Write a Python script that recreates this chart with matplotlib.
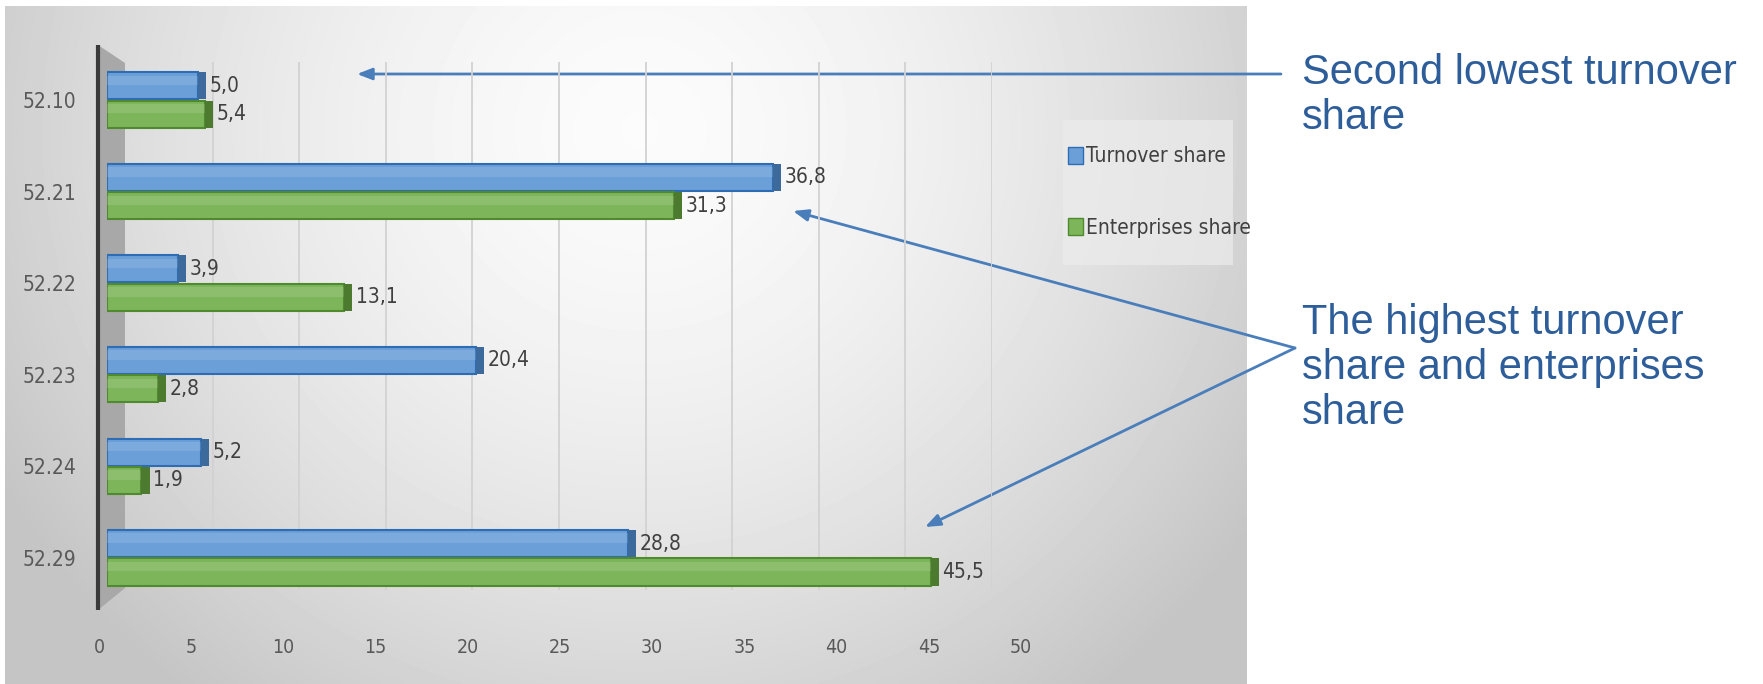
import matplotlib

matplotlib.use("Agg")
import matplotlib.pyplot as plt
import numpy as np
from matplotlib import font_manager
from matplotlib.patches import Patch, Polygon, Rectangle

# data
categories = ["52.10", "52.21", "52.22", "52.23", "52.24", "52.29"]
turnover_share = [5.0, 36.8, 3.9, 20.4, 5.2, 28.8]
enterprises_share = [5.4, 31.3, 13.1, 2.8, 1.9, 45.5]
series_labels = ["Turnover share", "Enterprises share"]
x_ticks = list(range(0, 55, 5))
note_low = "Second lowest turnover\nshare"
note_high = "The highest turnover\nshare and enterprises\nshare"

W, H = 1763, 684
NOTE_COLOR = "#2E5E9A"
ARROW_COLOR = "#4A7EBB"
LABEL_COLOR = "#404040"

BLUE = dict(face="#6A9FD8", edge="#2E6DB4", side="#3C6A9C")
GREEN = dict(face="#7DB65A", edge="#4F8A2E", side="#4C7A2E")


def narrow_font():
    # look for any condensed / narrow face; fall back to plain sans
    best = None
    for f in font_manager.fontManager.ttflist:
        name = f.name.lower()
        fn = f.fname.lower()
        narrow = (str(f.stretch) in ("condensed", "semi-condensed", "extra-condensed")
                  or "narrow" in name or "condensed" in name
                  or "condensed" in fn or "narrow" in fn)
        if not narrow or f.style != "normal":
            continue
        if f.weight not in (400, "normal", "regular", "book"):
            continue
        if "semi" in fn or "extra" in fn or "ultra" in fn:
            continue
        best = f.fname
        if "liberation" in fn or "dejavu" in fn:
            break
    if best:
        return {"fname": best}
    return {"family": "DejaVu Sans"}


NARROW = narrow_font()


def nfont(size):
    return font_manager.FontProperties(size=size, **NARROW)


def box(x0, y0, x1, y1):
    return [x0 / W, 1 - y1 / H, (x1 - x0) / W, (y1 - y0) / H]


def fmt(v):
    return f"{v:.1f}".replace(".", ",")


fig = plt.figure(figsize=(W / 100, H / 100), dpi=100)

# background panel with soft radial gradient
bg = fig.add_axes([0, 0, 1, 1])
bg.set_xlim(0, W)
bg.set_ylim(H, 0)
bg.axis("off")
px0, px1, py0, py1 = 5, 1247, 6, H
gx, gy = np.meshgrid(np.linspace(px0, px1, 400), np.linspace(py0, py1, 220))
r = np.sqrt(((gx - 640) / 640) ** 2 + ((gy - 130) / 620) ** 2)
shade = np.clip(0.985 - 0.17 * r ** 1.6, 0.77, 1.0)
bg.imshow(shade, extent=(px0, px1, py1, py0), cmap="gray", vmin=0, vmax=1,
          aspect="auto", interpolation="bilinear")

# 3d side wall and axis line
bg.add_patch(Polygon([(98, 45), (125, 63), (125, 588), (98, 610)],
                     closed=True, facecolor="#a8a8a8", edgecolor="none"))
bg.plot([98, 98], [45, 610], color="#3a3a3a", lw=3, solid_capstyle="butt")

# legend backdrop
bg.add_patch(Rectangle((1063, 120), 170, 145, facecolor="#ececec", alpha=0.7,
                       edgecolor="none"))

# back wall gridlines
gax = fig.add_axes(box(126, 62, 992, 590))
gax.set_xlim(0, 50)
gax.set_ylim(0, 1)
gax.patch.set_visible(False)
gax.axis("off")
for t in x_ticks[1:]:
    gax.axvline(t, color="#d2d2d2", lw=1.3)

# bars
ax = fig.add_axes(box(107, 45, 1012, 610))
ax.patch.set_visible(False)
y = np.arange(len(categories))
h = 0.295
off = 0.155
side = 0.45
for vals, sty, dy in ((turnover_share, BLUE, -off), (enterprises_share, GREEN, off)):
    ax.barh(y + dy, vals, height=h, color=sty["face"], edgecolor=sty["edge"],
            linewidth=1.5, zorder=3)
    # soft highlight on the upper half of each bar
    ax.barh(y + dy - h * 0.2, vals, height=h * 0.35, color="white", alpha=0.12,
            edgecolor="none", zorder=3)
    ax.barh(y + dy, [side] * len(vals), left=vals, height=h, color=sty["side"],
            edgecolor="none", zorder=3)
    for yi, v in zip(y + dy, vals):
        ax.text(v + side + 0.2, yi, fmt(v), ha="left", va="center",
                fontproperties=nfont(15), color=LABEL_COLOR, zorder=4)

ax.set_xlim(0, 50)
ax.set_ylim(5.57, -0.60)
ax.set_xticks([])
ax.set_yticks(y)
ax.set_yticklabels(categories, fontproperties=nfont(15), color="#595959")
ax.tick_params(axis="y", length=0, pad=22)
for s in ax.spines.values():
    s.set_visible(False)

handles = [Patch(facecolor=BLUE["face"], edgecolor=BLUE["edge"]),
           Patch(facecolor=GREEN["face"], edgecolor=GREEN["edge"])]
leg = ax.legend(handles, series_labels, loc="center left",
                bbox_to_anchor=(1068 / W, 1 - 192 / H), bbox_transform=fig.transFigure,
                prop=nfont(15), labelspacing=2.45,
                handlelength=0.7, handleheight=0.9, handletextpad=0.15,
                borderpad=0, borderaxespad=0, frameon=False)
for t in leg.get_texts():
    t.set_color(LABEL_COLOR)

# value axis labels (front edge of the floor)
tax = fig.add_axes(box(99, 600, 1021, 628))
tax.patch.set_visible(False)
tax.set_xlim(0, 50)
tax.set_xticks(x_ticks)
tax.set_xticklabels([str(t) for t in x_ticks], fontproperties=nfont(14), color="#595959")
tax.set_yticks([])
tax.tick_params(axis="x", length=0, pad=7)
for s in tax.spines.values():
    s.set_visible(False)

# callouts
arrow = dict(arrowstyle="-|>,head_length=0.9,head_width=0.35", color=ARROW_COLOR,
             lw=2, shrinkA=0, shrinkB=0)
bg.annotate("", xy=(357, 74), xytext=(1281, 74), arrowprops=arrow)
bg.annotate("", xy=(793, 211), xytext=(1295, 348), arrowprops=arrow)
bg.annotate("", xy=(925, 527), xytext=(1295, 348), arrowprops=arrow)

# multi-line baseline alignment anchors the last line
bg.text(1302, 129, note_low, ha="left", va="baseline", fontsize=30,
        color=NOTE_COLOR, family="Liberation Sans", linespacing=1.16)
bg.text(1302, 424, note_high, ha="left", va="baseline", fontsize=30,
        color=NOTE_COLOR, family="Liberation Sans", linespacing=1.16)

fig.savefig("out.png", dpi=100)
plt.close(fig)
